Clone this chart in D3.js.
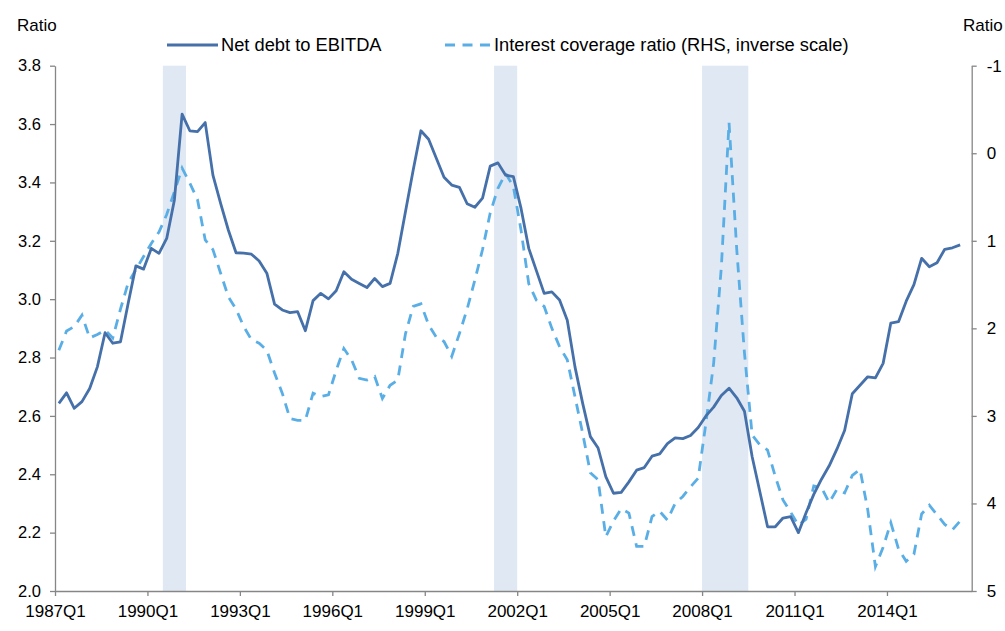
<!DOCTYPE html>
<html>
<head>
<meta charset="utf-8">
<script src="https://cdn.jsdelivr.net/npm/d3@7"></script>
<style>
  body { margin: 0; background: #fff; }
  svg text { font-family: "Liberation Sans", Arial, sans-serif; fill: #000; }
</style>
</head>
<body>
<svg id="chart"></svg>
<script>
const width = 1005;
const height = 631;

// quarters 1987Q1 .. 2016Q3 (last one has no data)
const quarters = [];
for (let y = 1987; y <= 2016; y++) {
  for (let q = 1; q <= 4; q++) quarters.push(y + "Q" + q);
}
quarters.splice(119);

const tickLabels = ["1987Q1", "1990Q1", "1993Q1", "1996Q1", "1999Q1", "2002Q1", "2005Q1", "2008Q1", "2011Q1", "2014Q1"];
const leftTicks = [2.0, 2.2, 2.4, 2.6, 2.8, 3.0, 3.2, 3.4, 3.6, 3.8];
const rightTicks = [-1, 0, 1, 2, 3, 4, 5];

// shaded periods (first and last quarter)
const recessions = [["1990Q3", "1991Q1"], ["2001Q2", "2001Q4"], ["2008Q1", "2009Q2"]];

// Net debt to EBITDA (LHS), from 1987Q1
const netDebt = [
  2.643, 2.679, 2.626, 2.649, 2.694, 2.768, 2.885, 2.849, 2.854, 2.986,
  3.114, 3.103, 3.174, 3.157, 3.208, 3.340, 3.634, 3.577, 3.574, 3.605,
  3.425, 3.328, 3.237, 3.159, 3.158, 3.154, 3.131, 3.089, 2.983, 2.963,
  2.954, 2.957, 2.892, 2.995, 3.020, 3.001, 3.029, 3.094, 3.068, 3.054,
  3.040, 3.071, 3.043, 3.054, 3.157, 3.300, 3.443, 3.577, 3.548, 3.483,
  3.418, 3.391, 3.383, 3.327, 3.315, 3.346, 3.456, 3.467, 3.425, 3.420,
  3.311, 3.174, 3.097, 3.020, 3.025, 2.997, 2.928, 2.768, 2.643, 2.529,
  2.490, 2.392, 2.335, 2.338, 2.374, 2.414, 2.423, 2.462, 2.470, 2.505,
  2.525, 2.522, 2.533, 2.560, 2.600, 2.630, 2.670, 2.695, 2.662, 2.616,
  2.460, 2.340, 2.220, 2.220, 2.250, 2.255, 2.200, 2.268, 2.331, 2.383,
  2.429, 2.486, 2.550, 2.676, 2.705, 2.734, 2.730, 2.780, 2.918, 2.923,
  2.993, 3.050, 3.140, 3.111, 3.125, 3.171, 3.176, 3.186
];

// Interest coverage ratio (RHS, inverse scale), from 1987Q1
const coverage = [
  2.25, 2.03, 1.98, 1.85, 2.11, 2.07, 2.02, 2.11, 1.78, 1.48,
  1.33, 1.18, 1.03, 0.90, 0.70, 0.44, 0.17, 0.34, 0.53, 0.99,
  1.10, 1.37, 1.64, 1.78, 1.98, 2.13, 2.17, 2.25, 2.51, 2.74,
  3.03, 3.05, 3.05, 2.74, 2.78, 2.76, 2.48, 2.23, 2.36, 2.57,
  2.59, 2.55, 2.80, 2.65, 2.59, 2.06, 1.75, 1.72, 1.96, 2.10,
  2.15, 2.32, 2.06, 1.78, 1.45, 1.10, 0.68, 0.40, 0.23, 0.38,
  0.88, 1.49, 1.68, 1.75, 2.00, 2.21, 2.36, 2.78, 3.20, 3.65,
  3.73, 4.38, 4.20, 4.06, 4.11, 4.49, 4.49, 4.15, 4.09, 4.19,
  4.00, 3.92, 3.81, 3.71, 3.08, 2.40, 1.30, -0.35, 1.10, 2.28,
  3.22, 3.33, 3.39, 3.69, 3.96, 4.10, 4.25, 4.18, 3.80, 3.82,
  3.99, 3.84, 3.88, 3.68, 3.61, 4.07, 4.72, 4.50, 4.22, 4.52,
  4.66, 4.58, 4.12, 4.02, 4.13, 4.24, 4.30, 4.20
];

const plot = { left: 55, right: 971.7, top: 65.7, bottom: 591 };

const svg = d3.select("#chart").attr("width", width).attr("height", height);

const x = d3.scaleLinear().domain([0, quarters.length]).range([plot.left, plot.right]);
const yL = d3.scaleLinear().domain([2.0, 3.8]).range([plot.bottom, plot.top]);
const yR = d3.scaleLinear().domain([-1, 5]).range([plot.top, plot.bottom]);

// recession bands
svg.selectAll("rect.band")
  .data(recessions)
  .enter()
  .append("rect")
  .attr("class", "band")
  .attr("x", d => x(quarters.indexOf(d[0])))
  .attr("width", d => x(quarters.indexOf(d[1]) + 1) - x(quarters.indexOf(d[0])))
  .attr("y", plot.top)
  .attr("height", plot.bottom - plot.top)
  .attr("fill", "#dfe8f3");

// axes
const axisColor = "#868686";

const xAxis = d3.axisBottom(x)
  .tickValues(tickLabels.map(t => quarters.indexOf(t)))
  .tickFormat(i => quarters[i])
  .tickSizeInner(5)
  .tickSizeOuter(0)
  .tickPadding(9);

const gx = svg.append("g").attr("transform", `translate(0,${plot.bottom})`).call(xAxis);

const gl = svg.append("g").attr("transform", `translate(${plot.left},0)`)
  .call(d3.axisLeft(yL).tickValues(leftTicks).tickFormat(d3.format(".1f")).tickSizeInner(5).tickSizeOuter(0).tickPadding(9));

const gr = svg.append("g").attr("transform", `translate(${plot.right},0)`)
  .call(d3.axisRight(yR).tickValues(rightTicks).tickFormat(d => String(d)).tickSizeInner(5).tickSizeOuter(0).tickPadding(10));

[gx, gl, gr].forEach(g => {
  g.selectAll("path, line").attr("stroke", axisColor).attr("stroke-width", 1.3);
  g.selectAll("text").attr("font-size", 17).attr("fill", "#000")
    .style("font-family", "'Liberation Sans', Arial, sans-serif");
});
gl.selectAll("text").attr("font-size", 16.5);

// lines
const lineL = d3.line().x((d, i) => x(i + 0.5)).y(d => yL(d));
const lineR = d3.line().x((d, i) => x(i + 0.5)).y(d => yR(d));

const solidColor = "#4570a9";
const dashColor = "#5aaee6";
const dashPattern = "10,7.5";

svg.append("path")
  .datum(coverage)
  .attr("d", lineR)
  .attr("fill", "none")
  .attr("stroke", dashColor)
  .attr("stroke-width", 2.8)
  .attr("stroke-dasharray", dashPattern);

svg.append("path")
  .datum(netDebt)
  .attr("d", lineL)
  .attr("fill", "none")
  .attr("stroke", solidColor)
  .attr("stroke-width", 2.8)
  .attr("stroke-linejoin", "round");

// axis titles
svg.append("text").attr("x", 17).attr("y", 31).attr("font-size", 17).text("Ratio");
svg.append("text").attr("x", 963).attr("y", 31).attr("font-size", 17).text("Ratio");

// legend
const legend = [
  { label: "Net debt to EBITDA", color: solidColor, dash: null, x0: 167, x1: 218 },
  { label: "Interest coverage ratio (RHS, inverse scale)", color: dashColor, dash: dashPattern, x0: 445, x1: 491 }
];

const lg = svg.selectAll("g.legend")
  .data(legend)
  .enter()
  .append("g")
  .attr("class", "legend");

lg.append("line")
  .attr("x1", d => d.x0)
  .attr("x2", d => d.x1)
  .attr("y1", 45)
  .attr("y2", 45)
  .attr("stroke", d => d.color)
  .attr("stroke-width", 2.8)
  .attr("stroke-dasharray", d => d.dash);

lg.append("text")
  .attr("x", d => d.x1 + 3)
  .attr("y", 45)
  .attr("dy", "0.35em")
  .attr("font-size", 18.3)
  .text(d => d.label);
</script>
</body>
</html>
